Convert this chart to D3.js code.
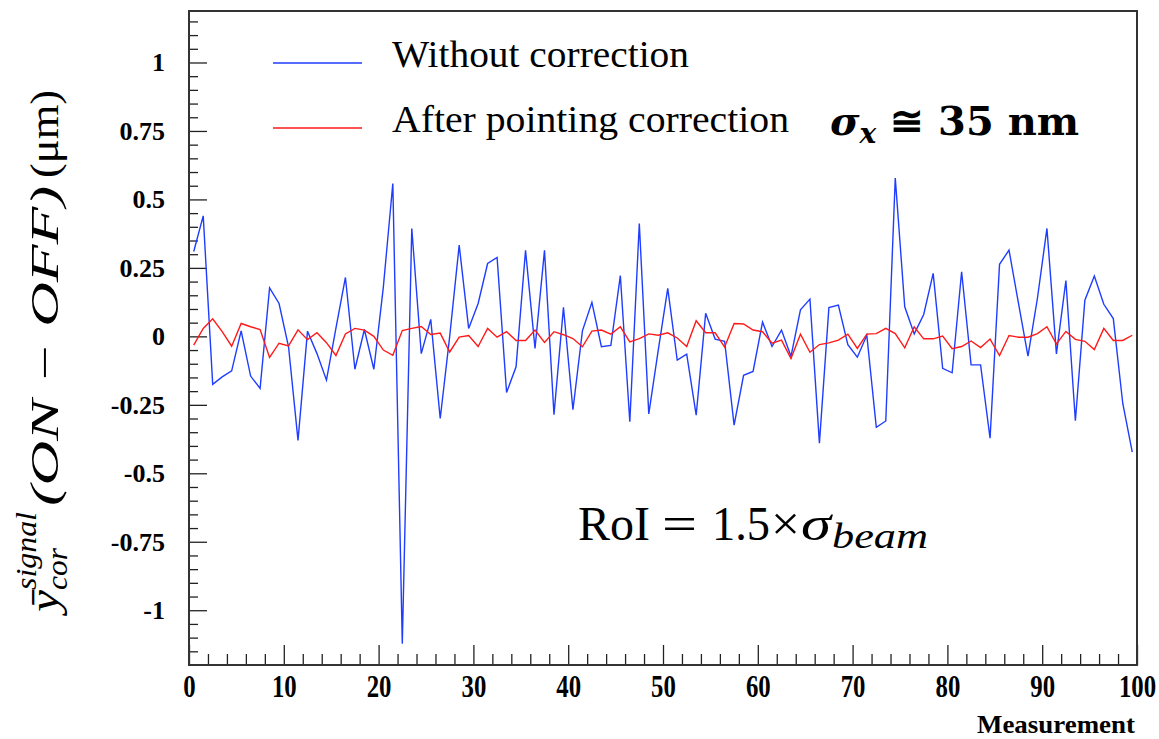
<!DOCTYPE html>
<html>
<head>
<meta charset="utf-8">
<script src="https://cdn.jsdelivr.net/npm/d3@7"></script>
<style>
  html, body { margin: 0; padding: 0; background: #fff; }
  svg { display: block; }
  .tick text { font-family: "Liberation Serif", "Times New Roman", serif; font-weight: bold; fill: #000; }
</style>
</head>
<body>
<svg id="chart" width="1159" height="739"></svg>
<script>
// Mean corrected signal offset (ON - OFF) for each measurement, in µm
const measurements = d3.range(100).map(i => i + 0.5);   // bin centres 0.5 … 99.5

const withoutCorrection = [
  0.31, 0.44, -0.175, -0.148, -0.126, 0.02, -0.145, -0.19, 0.177, 0.12,
  -0.038, -0.38, 0.019, -0.063, -0.16, 0.03, 0.215, -0.12, 0.025, -0.12,
  0.18, 0.558, -1.122, 0.394, -0.063, 0.062, -0.30, 0.0, 0.333, 0.029,
  0.12, 0.266, 0.288, -0.205, -0.111, 0.314, -0.044, 0.314, -0.286, 0.106,
  -0.268, 0.02, 0.124, -0.038, -0.033, 0.222, -0.312, 0.412, -0.283, -0.05,
  0.175, -0.087, -0.065, -0.288, 0.084, -0.01, -0.018, -0.324, -0.142, -0.128,
  0.052, -0.037, 0.023, -0.073, 0.097, 0.136, -0.39, 0.105, 0.114, -0.03,
  -0.076, 0.004, -0.332, -0.309, 0.578, 0.108, 0.009, 0.08, 0.23, -0.117,
  -0.133, 0.236, -0.104, -0.104, -0.372, 0.263, 0.315, 0.12, -0.072, 0.14,
  0.394, -0.064, 0.204, -0.308, 0.132, 0.22, 0.117, 0.065, -0.245, -0.423
];

const afterPointingCorrection = [
  -0.032, 0.029, 0.064, 0.017, -0.036, 0.047, 0.035, 0.025, -0.077, -0.025,
  -0.035, 0.024, -0.012, 0.013, -0.023, -0.07, 0.009, 0.029, 0.023, 0.0,
  -0.05, -0.069, 0.021, 0.029, 0.036, 0.007, 0.012, -0.057, -0.003, 0.003,
  -0.037, 0.029, -0.003, 0.017, -0.015, -0.015, 0.023, -0.022, 0.017, 0.006,
  -0.008, -0.038, 0.019, 0.023, 0.008, 0.035, -0.02, -0.008, 0.009, 0.004,
  0.013, -0.006, -0.037, 0.057, 0.013, 0.013, -0.039, 0.047, 0.045, 0.023,
  0.017, -0.025, -0.014, -0.081, 0.008, -0.058, -0.03, -0.024, -0.014, 0.008,
  -0.044, 0.008, 0.01, 0.029, 0.01, -0.042, 0.035, -0.009, -0.009, 0.001,
  -0.045, -0.037, -0.017, -0.041, -0.01, -0.07, 0.003, -0.003, -0.003, 0.01,
  0.035, -0.028, 0.018, -0.011, -0.018, -0.048, 0.029, -0.015, -0.015, 0.004
];

const xTickValues = d3.range(0, 101, 10);
const xMinorValues = d3.range(0, 101, 2).filter(v => v % 10 !== 0);
const yTickValues = [-1, -0.75, -0.5, -0.25, 0, 0.25, 0.5, 0.75, 1];
const yTickLabels = ["-1", "-0.75", "-0.5", "-0.25", "0", "0.25", "0.5", "0.75", "1"];
const yMinorValues = d3.range(-23, 24).map(k => k * 0.05).filter(v => Math.abs(Math.round(v * 4) - v * 4) > 1e-6);

const seriesNames = ["Without correction", "After pointing correction"];
const seriesColors = ["#1f3dff", "#ff1a1a"];

const svg = d3.select("#chart");
const frame = { left: 189, right: 1137, top: 11, bottom: 665 };

const x = d3.scaleLinear().domain([0, 100]).range([frame.left, frame.right]);
const y = d3.scaleLinear().domain([-1.2, 1.188]).range([frame.bottom, frame.top]);

const tickStroke = g => g.selectAll("line").attr("stroke", "#222").attr("stroke-width", 1.3);

// Minor ticks (pointing into the frame)
svg.append("g")
  .attr("transform", `translate(0,${frame.bottom})`)
  .call(d3.axisBottom(x).tickValues(xMinorValues).tickSize(-11).tickFormat(""))
  .call(g => g.select(".domain").remove())
  .call(tickStroke);

svg.append("g")
  .attr("transform", `translate(${frame.left},0)`)
  .call(d3.axisLeft(y).tickValues(yMinorValues).tickSize(-9).tickFormat(""))
  .call(g => g.select(".domain").remove())
  .call(tickStroke);

// Major ticks with labels
const xAxis = svg.append("g")
  .attr("transform", `translate(0,${frame.bottom})`)
  .call(d3.axisBottom(x).tickValues(xTickValues).tickSize(-20).tickPadding(10).tickFormat(d3.format("d")))
  .call(g => g.select(".domain").remove())
  .call(tickStroke);
xAxis.selectAll(".tick text")
  .attr("font-size", 31)
  .attr("dy", "0.7em")
  .attr("transform", "scale(0.8,1)");

const yAxis = svg.append("g")
  .attr("transform", `translate(${frame.left},0)`)
  .call(d3.axisLeft(y).tickValues(yTickValues).tickSize(-18).tickPadding(24)
    .tickFormat((d, i) => yTickLabels[i]))
  .call(g => g.select(".domain").remove())
  .call(tickStroke);
yAxis.selectAll(".tick text")
  .attr("font-size", 26);

// Frame
svg.append("rect")
  .attr("x", frame.left).attr("y", frame.top)
  .attr("width", frame.right - frame.left).attr("height", frame.bottom - frame.top)
  .attr("fill", "none").attr("stroke", "#333").attr("stroke-width", 2);

// Series lines
const line = d3.line().x((d, i) => x(measurements[i])).y(d => y(d));
[withoutCorrection, afterPointingCorrection].forEach((vals, k) => {
  svg.append("path")
    .datum(vals)
    .attr("d", line)
    .attr("fill", "none")
    .attr("stroke", seriesColors[k])
    .attr("stroke-width", 1.4)
    .attr("stroke-linejoin", "miter");
});

// Legend
const legendY = [63, 128];
const legendTextW = [297, 397];
seriesNames.forEach((name, k) => {
  svg.append("line")
    .attr("x1", 273).attr("x2", 362)
    .attr("y1", legendY[k]).attr("y2", legendY[k])
    .attr("stroke", seriesColors[k]).attr("stroke-width", 1.6);
  svg.append("text")
    .attr("x", 392).attr("y", legendY[k] + 4)
    .attr("font-family", "Liberation Serif, Times New Roman, serif")
    .attr("font-size", 38)
    .attr("textLength", legendTextW[k])
    .attr("lengthAdjust", "spacingAndGlyphs")
    .text(name);
});

// Resolution annotation
const sig = svg.append("text")
  .attr("x", 830).attr("y", 135)
  .attr("font-family", "DejaVu Serif, Liberation Serif, serif")
  .attr("font-weight", "bold")
  .attr("font-size", 40);
sig.append("tspan").attr("font-style", "italic").text("σ");
sig.append("tspan").attr("font-style", "italic").attr("font-size", 28).attr("dy", 8).text("x");
sig.append("tspan").attr("dy", -8).text(" ≅ 35 nm");

// Region of interest annotation
const roiFont = "Liberation Serif, Times New Roman, serif";
const roiParts = [
  { t: "RoI", x: 578, w: 72, size: 48, italic: false, dy: 0 },
  { t: "=", x: 662, w: 35, size: 48, italic: false, dy: 0 },
  { t: "1.5", x: 712, w: 58, size: 48, italic: false, dy: 0 },
  { t: "×", x: 771, w: 29, size: 48, italic: false, dy: 0 },
  { t: "σ", x: 801, w: 30, size: 48, italic: true, dy: 0 },
  { t: "beam", x: 832, w: 96, size: 36, italic: true, dy: 8 }
];
roiParts.forEach(p => {
  svg.append("text")
    .attr("x", p.x).attr("y", 540 + p.dy)
    .attr("font-family", roiFont)
    .attr("font-size", p.size)
    .attr("font-style", p.italic ? "italic" : "normal")
    .attr("textLength", p.w)
    .attr("lengthAdjust", "spacingAndGlyphs")
    .text(p.t);
});

// X axis title
svg.append("text")
  .attr("x", 1135).attr("y", 733)
  .attr("text-anchor", "end")
  .attr("font-family", "Liberation Serif, Times New Roman, serif")
  .attr("font-weight", "bold")
  .attr("font-size", 26)
  .attr("textLength", 158)
  .attr("lengthAdjust", "spacingAndGlyphs")
  .text("Measurement");

// Y axis title (rotated, reads bottom to top)
const yt = svg.append("g").attr("transform", "translate(58,612) rotate(-90)")
  .attr("font-family", "Liberation Serif, Times New Roman, serif");
yt.append("text").attr("x", 0).attr("y", 0).attr("font-size", 42).attr("font-style", "italic")
  .attr("textLength", 22).attr("lengthAdjust", "spacingAndGlyphs").text("ȳ");
yt.append("text").attr("x", 22).attr("y", -22).attr("font-size", 30).attr("font-style", "italic")
  .attr("textLength", 78).attr("lengthAdjust", "spacingAndGlyphs").text("signal");
yt.append("text").attr("x", 22).attr("y", 9).attr("font-size", 30).attr("font-style", "italic")
  .attr("textLength", 42).attr("lengthAdjust", "spacingAndGlyphs").text("cor");
yt.append("text").attr("x", 106).attr("y", 0).attr("font-size", 40).attr("font-style", "italic")
  .attr("textLength", 320).attr("lengthAdjust", "spacingAndGlyphs").text("(ON − OFF)");
yt.append("text").attr("x", 434).attr("y", 0).attr("font-size", 40)
  .attr("textLength", 88).attr("lengthAdjust", "spacingAndGlyphs").text("(μm)");
</script>
</body>
</html>
